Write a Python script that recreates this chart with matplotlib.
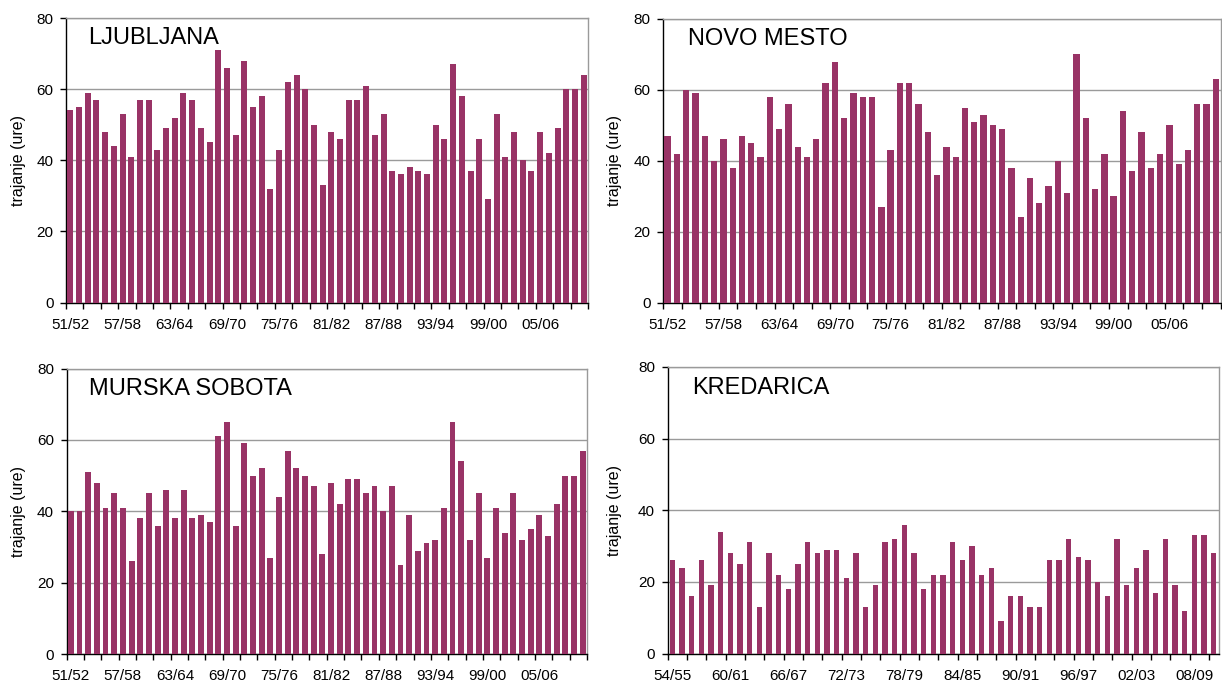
import numpy as np
import matplotlib
matplotlib.use('Agg')
import matplotlib.pyplot as plt

plt.rcParams['font.family'] = ['Liberation Sans', 'DejaVu Sans']

# ---------- Data ----------
# seasons 51/52 ... 10/11 (Ljubljana, Novo mesto, Murska Sobota)
seasons_lowland = [f"{y % 100:02d}/{(y + 1) % 100:02d}" for y in range(1951, 2011)]
# seasons 54/55 ... 10/11 (Kredarica)
seasons_kredarica = [f"{y % 100:02d}/{(y + 1) % 100:02d}" for y in range(1954, 2011)]

ljubljana = [54, 55, 59, 57, 48, 44, 53, 41, 57, 57, 43, 49, 52, 59, 57, 49, 45, 71, 66, 47,
             68, 55, 58, 32, 43, 62, 64, 60, 50, 33, 48, 46, 57, 57, 61, 47, 53, 37, 36, 38,
             37, 36, 50, 46, 67, 58, 37, 46, 29, 53, 41, 48, 40, 37, 48, 42, 49, 60, 60, 64]

novo_mesto = [47, 42, 60, 59, 47, 40, 46, 38, 47, 45, 41, 58, 49, 56, 44, 41, 46, 62, 68, 52,
              59, 58, 58, 27, 43, 62, 62, 56, 48, 36, 44, 41, 55, 51, 53, 50, 49, 38, 24, 35,
              28, 33, 40, 31, 70, 52, 32, 42, 30, 54, 37, 48, 38, 42, 50, 39, 43, 56, 56, 63]

murska_sobota = [40, 40, 51, 48, 41, 45, 41, 26, 38, 45, 36, 46, 38, 46, 38, 39, 37, 61, 65, 36,
                 59, 50, 52, 27, 44, 57, 52, 50, 47, 28, 48, 42, 49, 49, 45, 47, 40, 47, 25, 39,
                 29, 31, 32, 41, 65, 54, 32, 45, 27, 41, 34, 45, 32, 35, 39, 33, 42, 50, 50, 57]

kredarica = [26, 24, 16, 26, 19, 34, 28, 25, 31, 13, 28, 22, 18, 25, 31, 28, 29, 29, 21, 28,
             13, 19, 31, 32, 36, 28, 18, 22, 22, 31, 26, 30, 22, 24, 9, 16, 16, 13, 13, 26,
             26, 32, 27, 26, 20, 16, 32, 19, 24, 29, 17, 32, 19, 12, 33, 33, 28]

stations = ['LJUBLJANA', 'NOVO MESTO', 'MURSKA SOBOTA', 'KREDARICA']

# ---------- Layout (pixels) ----------
W, H = 1222, 682
BAR = '#993366'
GRID = '#9a9a9a'

panels = [
    # name, values, labels, (left, right, top, bottom), title pos, ylabel x, bar width
    (stations[0], ljubljana, seasons_lowland, (66, 588, 18, 302.5), (88, 38), 18.5, 0.68),
    (stations[1], novo_mesto, seasons_lowland, (663, 1220.5, 19, 302.5), (688, 39), 614, 0.68),
    (stations[2], murska_sobota, seasons_lowland, (66.5, 587, 368.5, 654), (89, 389), 18.5, 0.68),
    (stations[3], kredarica, seasons_kredarica, (667.5, 1218.5, 367, 653.5), (692, 388), 614, 0.56),
]

fig = plt.figure(figsize=(W / 100, H / 100), dpi=100)

for name, vals, labels, (l, r, t, b), (tx, ty), ylx, bw in panels:
    ax = fig.add_axes([l / W, 1 - b / H, (r - l) / W, (b - t) / H])
    n = len(vals)
    x = np.arange(n)
    ax.bar(x, vals, width=bw, color=BAR, edgecolor='none', zorder=3)

    ax.set_xlim(-0.5, n - 0.5)
    ax.set_ylim(0, 80)
    ax.set_yticks([0, 20, 40, 60, 80])
    ax.yaxis.grid(True, color=GRID, linewidth=1.0, zorder=0)

    ax.set_xticks(x[::6])
    ax.set_xticklabels(labels[::6])
    ax.set_xticks(np.arange(-0.5, n, 2), minor=True)
    ax.tick_params(axis='x', which='major', length=0, pad=11, labelsize=11)
    ax.tick_params(axis='x', which='minor', length=4, width=1, direction='out', color='black')
    ax.tick_params(axis='y', length=4, width=1, direction='out', pad=5, labelsize=11)

    for s in ['left', 'bottom']:
        ax.spines[s].set_color('black')
        ax.spines[s].set_linewidth(1.0)
    for s in ['top', 'right']:
        ax.spines[s].set_color(GRID)
        ax.spines[s].set_linewidth(1.0)

    fig.text(tx / W, 1 - ty / H, name, fontsize=17, ha='left', va='center')
    fig.text(ylx / W, 1 - (t + b) / 2 / H, 'trajanje (ure)', fontsize=11.5,
             rotation=90, ha='center', va='center')

fig.savefig('out.png', dpi=100)
